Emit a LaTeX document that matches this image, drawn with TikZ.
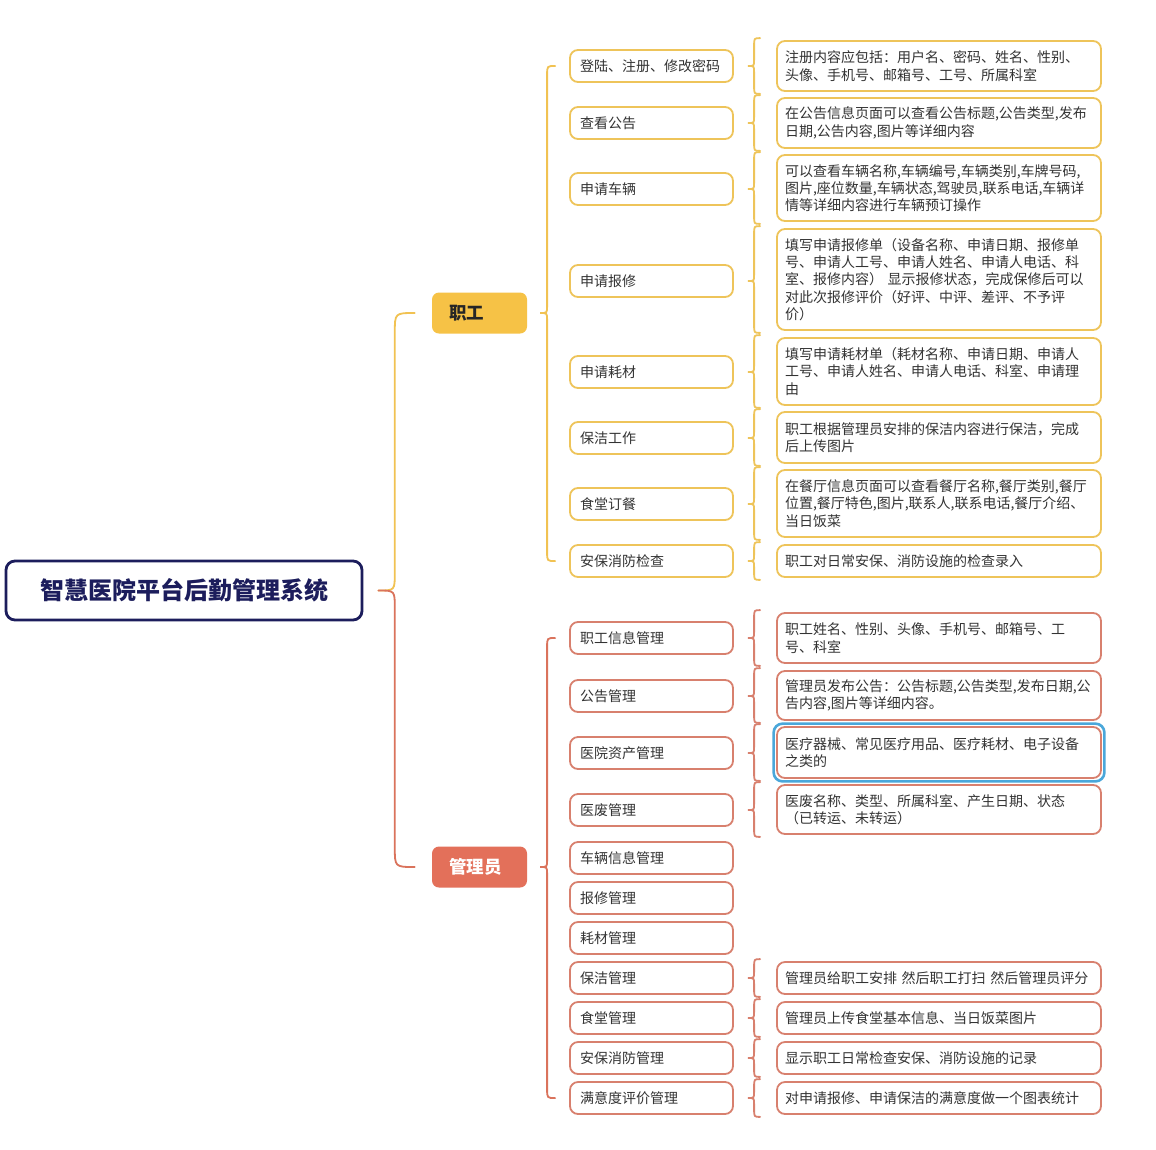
\documentclass[tikz,border=0pt]{standalone}
\usepackage{fontspec}
\setmainfont{Noto Sans CJK SC}
\usetikzlibrary{calc,fit}
\definecolor{yel}{HTML}{EEC45A}
\definecolor{yline}{HTML}{F1C252}
\definecolor{yfill}{HTML}{F6C246}
\definecolor{red}{HTML}{D8806E}
\definecolor{rline}{HTML}{DA735C}
\definecolor{rfill}{HTML}{E3705A}
\definecolor{navy}{HTML}{1C1D5C}
\definecolor{txt}{HTML}{333333}
\definecolor{hl}{HTML}{4AA7DA}
\newcommand\fs{\fontsize{14pt}{17.3pt}\selectfont}
\newcommand\sbrace[3]{%
 \draw[#3] let \p1=(#1.east), \p2=(#2.north west), \p3=(#2.south west) in
 (\x2-16pt,\y2+2pt) .. controls (\x2-22pt,\y2+2pt) .. (\x2-22pt,\y2-6pt)
 -- (\x2-22pt,\y1+6pt) .. controls (\x2-22pt,\y1) .. (\x1+14pt,\y1)
 .. controls (\x2-22pt,\y1) .. (\x2-22pt,\y1-6pt)
 -- (\x2-22pt,\y3+6pt) .. controls (\x2-22pt,\y3-2pt) .. (\x2-16pt,\y3-2pt);}
\newcommand\mbrace[4]{%
 \draw[#4] let \p1=(#1.east), \p2=(#2.west), \p3=(#3.west) in
 (\x2-14pt,\y2) .. controls (\x2-22pt,\y2) .. (\x2-22pt,\y2-9pt)
 -- (\x2-22pt,\y1+7pt) .. controls (\x2-22pt,\y1) .. (\x1+13pt,\y1)
 .. controls (\x2-22pt,\y1) .. (\x2-22pt,\y1-7pt)
 -- (\x2-22pt,\y3+9pt) .. controls (\x2-22pt,\y3) .. (\x2-14pt,\y3);}
\tikzset{
 conn/.style={line width=1.8pt, line cap=round},
 child/.style={draw=#1, line width=1.8pt, rounded corners=8pt, fill=white,
   text width=143pt, inner xsep=10pt, inner ysep=0pt, minimum height=32pt,
   align=left, font=\fs, text=txt},
 detail/.style={draw=#1, line width=1.8pt, rounded corners=8pt, fill=white,
   text width=308pt, inner xsep=8pt, inner ysep=0pt,
   align=left, font=\fs, text=txt},
 lvl/.style={fill=#1, rounded corners=7pt, minimum height=41pt, text width=61pt,
   inner xsep=17pt, align=left, font=\fontsize{17.5pt}{20pt}\selectfont\bfseries},
}
\begin{document}
\begin{tikzpicture}[x=1pt,y=-1pt]
\path[use as bounding box] (0,0) rectangle (1156,1149);
\fill[white] (0,0) rectangle (1156,1149);
% root
\node[draw=navy, line width=2.8pt, rounded corners=9pt, minimum width=356pt,
  minimum height=59pt, text=navy, font=\fontsize{24pt}{28pt}\selectfont\bfseries]
  (root) at (184,590.5) {智慧医院平台后勤管理系统};
% level 1
\node[lvl=yfill, text=black!85] (zg) at (479.5,313) {职工};
\node[lvl=rfill, text=white] (gl) at (479.5,867) {管理员};
% root brace
\draw[conn, yline] let \p1=(root.east), \p2=(zg.west) in
 (\x2-17pt,\y2) .. controls (\x2-37pt,\y2) .. (\x2-37pt,\y2-20pt)
 -- (\x2-37pt,\y1+18pt) .. controls (\x2-37pt,\y1) .. (\x1+15pt,\y1);
\draw[conn, rline] let \p1=(root.east), \p2=(gl.west) in
 (\x1+15pt,\y1) .. controls (\x2-37pt,\y1) .. (\x2-37pt,\y1-18pt)
 -- (\x2-37pt,\y2+20pt) .. controls (\x2-37pt,\y2) .. (\x2-17pt,\y2);
% staff children
\node[child=yel] (z1) at (651.5,66) {登陆、注册、修改密码};
\node[child=yel] (z2) at (651.5,123) {查看公告};
\node[child=yel] (z3) at (651.5,189) {申请车辆};
\node[child=yel] (z4) at (651.5,281) {申请报修};
\node[child=yel] (z5) at (651.5,372) {申请耗材};
\node[child=yel] (z6) at (651.5,438) {保洁工作};
\node[child=yel] (z7) at (651.5,504) {食堂订餐};
\node[child=yel] (z8) at (651.5,561) {安保消防检查};
\node[detail=yel, minimum height=50pt] (zd1) at (939,66) {注册内容应包括：用户名、密码、姓名、性别、\\头像、手机号、邮箱号、工号、所属科室};
\node[detail=yel, minimum height=50pt] (zd2) at (939,123) {在公告信息页面可以查看公告标题,公告类型,发布\\日期,公告内容,图片等详细内容};
\node[detail=yel, minimum height=66pt] (zd3) at (939,188) {可以查看车辆名称,车辆编号,车辆类别,车牌号码,\\图片,座位数量,车辆状态,驾驶员,联系电话,车辆详\\情等详细内容进行车辆预订操作};
\node[detail=yel, minimum height=101pt] (zd4) at (939,279.5) {填写申请报修单（设备名称、申请日期、报修单\\号、申请人工号、申请人姓名、申请人电话、科\\室、报修内容） 显示报修状态，完成保修后可以\\对此次报修评价（好评、中评、差评、不予评\\价）};
\node[detail=yel, minimum height=67pt] (zd5) at (939,371.5) {填写申请耗材单（耗材名称、申请日期、申请人\\工号、申请人姓名、申请人电话、科室、申请理\\由};
\node[detail=yel, minimum height=51pt] (zd6) at (939,437.5) {职工根据管理员安排的保洁内容进行保洁，完成\\后上传图片};
\node[detail=yel, minimum height=67pt] (zd7) at (939,503.5) {在餐厅信息页面可以查看餐厅名称,餐厅类别,餐厅\\位置,餐厅特色,图片,联系人,联系电话,餐厅介绍、\\当日饭菜};
\node[detail=yel, minimum height=32pt] (zd8) at (939,561) {职工对日常安保、消防设施的检查录入};
% admin children
\node[child=red] (a1) at (651.5,638) {职工信息管理};
\node[child=red] (a2) at (651.5,696) {公告管理};
\node[child=red] (a3) at (651.5,753) {医院资产管理};
\node[child=red] (a4) at (651.5,810) {医废管理};
\node[child=red] (a5) at (651.5,858) {车辆信息管理};
\node[child=red] (a6) at (651.5,898) {报修管理};
\node[child=red] (a7) at (651.5,938) {耗材管理};
\node[child=red] (a8) at (651.5,978) {保洁管理};
\node[child=red] (a9) at (651.5,1018) {食堂管理};
\node[child=red] (a10) at (651.5,1058) {安保消防管理};
\node[child=red] (a11) at (651.5,1098) {满意度评价管理};
\node[detail=red, minimum height=50pt] (ad1) at (939,638) {职工姓名、性别、头像、手机号、邮箱号、工\\号、科室};
\node[detail=red, minimum height=49pt] (ad2) at (939,695.5) {管理员发布公告：公告标题,公告类型,发布日期,公\\告内容,图片等详细内容。};
\node[detail=red, minimum height=51pt] (ad3) at (939,752.5) {医疗器械、常见医疗用品、医疗耗材、电子设备\\之类的};
\node[detail=red, minimum height=49pt] (ad4) at (939,809.5) {医废名称、类型、所属科室、产生日期、状态\\（已转运、未转运）};
\node[detail=red, minimum height=32pt] (ad8) at (939,978) {管理员给职工安排 然后职工打扫 然后管理员评分};
\node[detail=red, minimum height=32pt] (ad9) at (939,1018) {管理员上传食堂基本信息、当日饭菜图片};
\node[detail=red, minimum height=32pt] (ad10) at (939,1058) {显示职工日常检查安保、消防设施的记录};
\node[detail=red, minimum height=32pt] (ad11) at (939,1098) {对申请报修、申请保洁的满意度做一个图表统计};
\node[fit=(ad3), inner sep=2.5pt, draw=hl, line width=2.6pt, rounded corners=9pt] (sel) {};
% level-2 braces
\mbrace{zg}{z1}{z8}{conn, yline}
\mbrace{gl}{a1}{a11}{conn, rline}
% small braces
\sbrace{z1}{zd1}{conn, yel}
\sbrace{z2}{zd2}{conn, yel}
\sbrace{z3}{zd3}{conn, yel}
\sbrace{z4}{zd4}{conn, yel}
\sbrace{z5}{zd5}{conn, yel}
\sbrace{z6}{zd6}{conn, yel}
\sbrace{z7}{zd7}{conn, yel}
\sbrace{z8}{zd8}{conn, yel}
\sbrace{a1}{ad1}{conn, red}
\sbrace{a2}{ad2}{conn, red}
\sbrace{a3}{ad3}{conn, red}
\sbrace{a4}{ad4}{conn, red}
\sbrace{a8}{ad8}{conn, red}
\sbrace{a9}{ad9}{conn, red}
\sbrace{a10}{ad10}{conn, red}
\sbrace{a11}{ad11}{conn, red}
\end{tikzpicture}
\end{document}
